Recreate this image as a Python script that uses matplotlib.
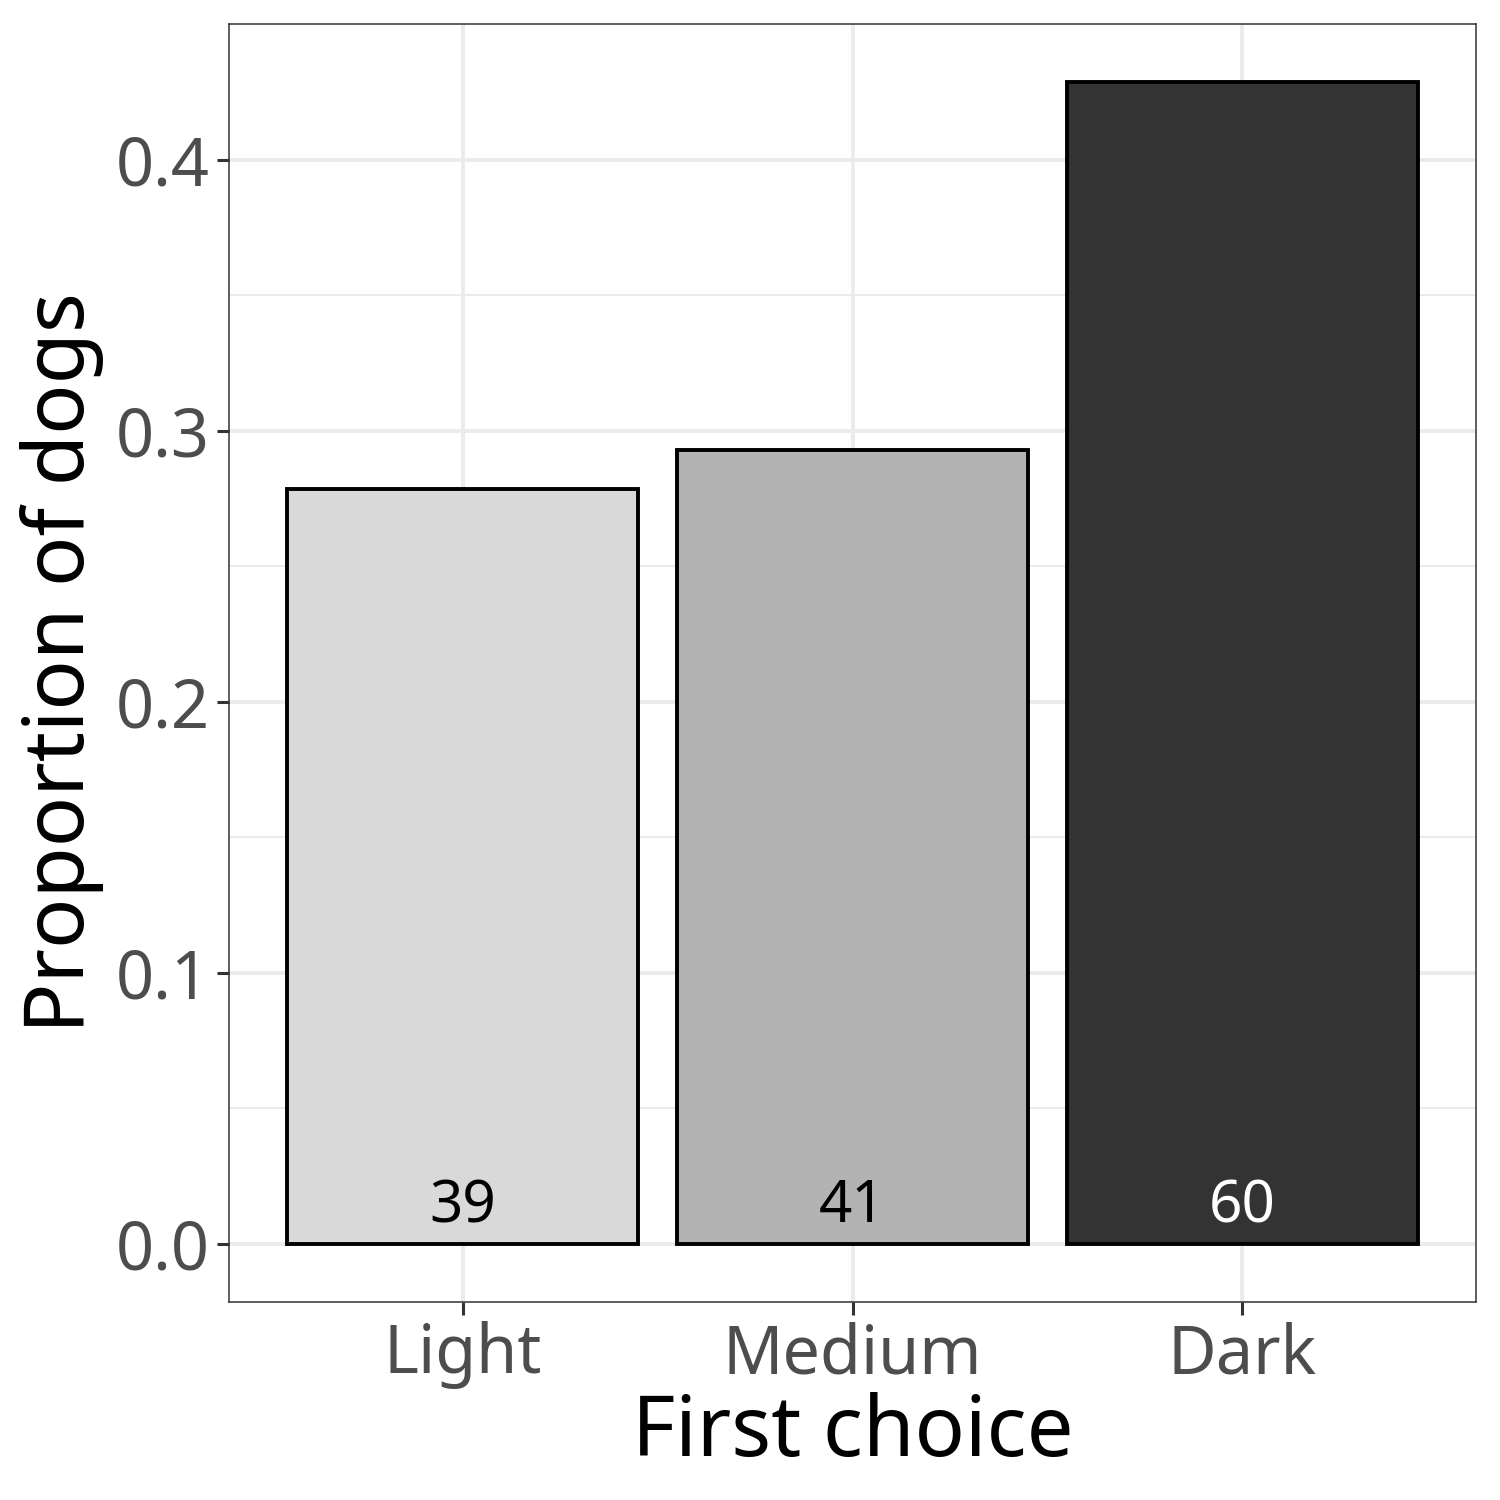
import matplotlib
matplotlib.use("Agg")
import matplotlib.pyplot as plt
import numpy as np

plt.rcParams['font.family'] = ['Noto Sans', 'DejaVu Sans']

categories = ["Light", "Medium", "Dark"]
counts = [39, 41, 60]
fills = ["#d9d9d9", "#b3b3b3", "#333333"]
label_colors = ["black", "black", "white"]

proportions = np.array(counts) / sum(counts)
x = np.arange(1, len(categories) + 1)

fig = plt.figure(figsize=(15, 15), dpi=100)
ax = fig.add_axes([229 / 1500, 1 - 1302 / 1500, (1476 - 229) / 1500, (1302 - 24) / 1500])

# grid like theme_bw
for yv in np.arange(0.05, 0.45, 0.1):
    ax.axhline(yv, color="#ebebeb", lw=1.4, zorder=0)
for yv in np.arange(0.0, 0.45, 0.1):
    ax.axhline(yv, color="#ebebeb", lw=2.8, zorder=0)
for xv in x:
    ax.axvline(xv, color="#ebebeb", lw=2.8, zorder=0)

ax.bar(x, proportions, width=0.9, color=fills, edgecolor="black", linewidth=2.8, zorder=2)
for xi, c, col in zip(x, counts, label_colors):
    ax.text(xi, 0.0028, str(c), ha="center", va="bottom", fontsize=42, color=col, zorder=3)

ymax = proportions.max()
pad = ymax * 0.05
ax.set_ylim(-pad, ymax + pad)
ax.set_xlim(0.4, 3.6)

ax.set_xticks(x)
ax.set_xticklabels(categories)
ax.set_yticks([0.0, 0.1, 0.2, 0.3, 0.4])
ax.set_yticklabels(["0.0", "0.1", "0.2", "0.3", "0.4"])
ax.tick_params(axis="both", labelsize=48, colors="#4d4d4d", length=9, width=2.2, pad=5)
ax.tick_params(axis="both", color="#333333")

for s in ax.spines.values():
    s.set_color("#333333")
    s.set_linewidth(1.1)

ax.set_xlabel("First choice", fontsize=60, labelpad=2)
ax.set_ylabel("Proportion of dogs", fontsize=60, labelpad=8)

fig.savefig("out.png", dpi=100)
